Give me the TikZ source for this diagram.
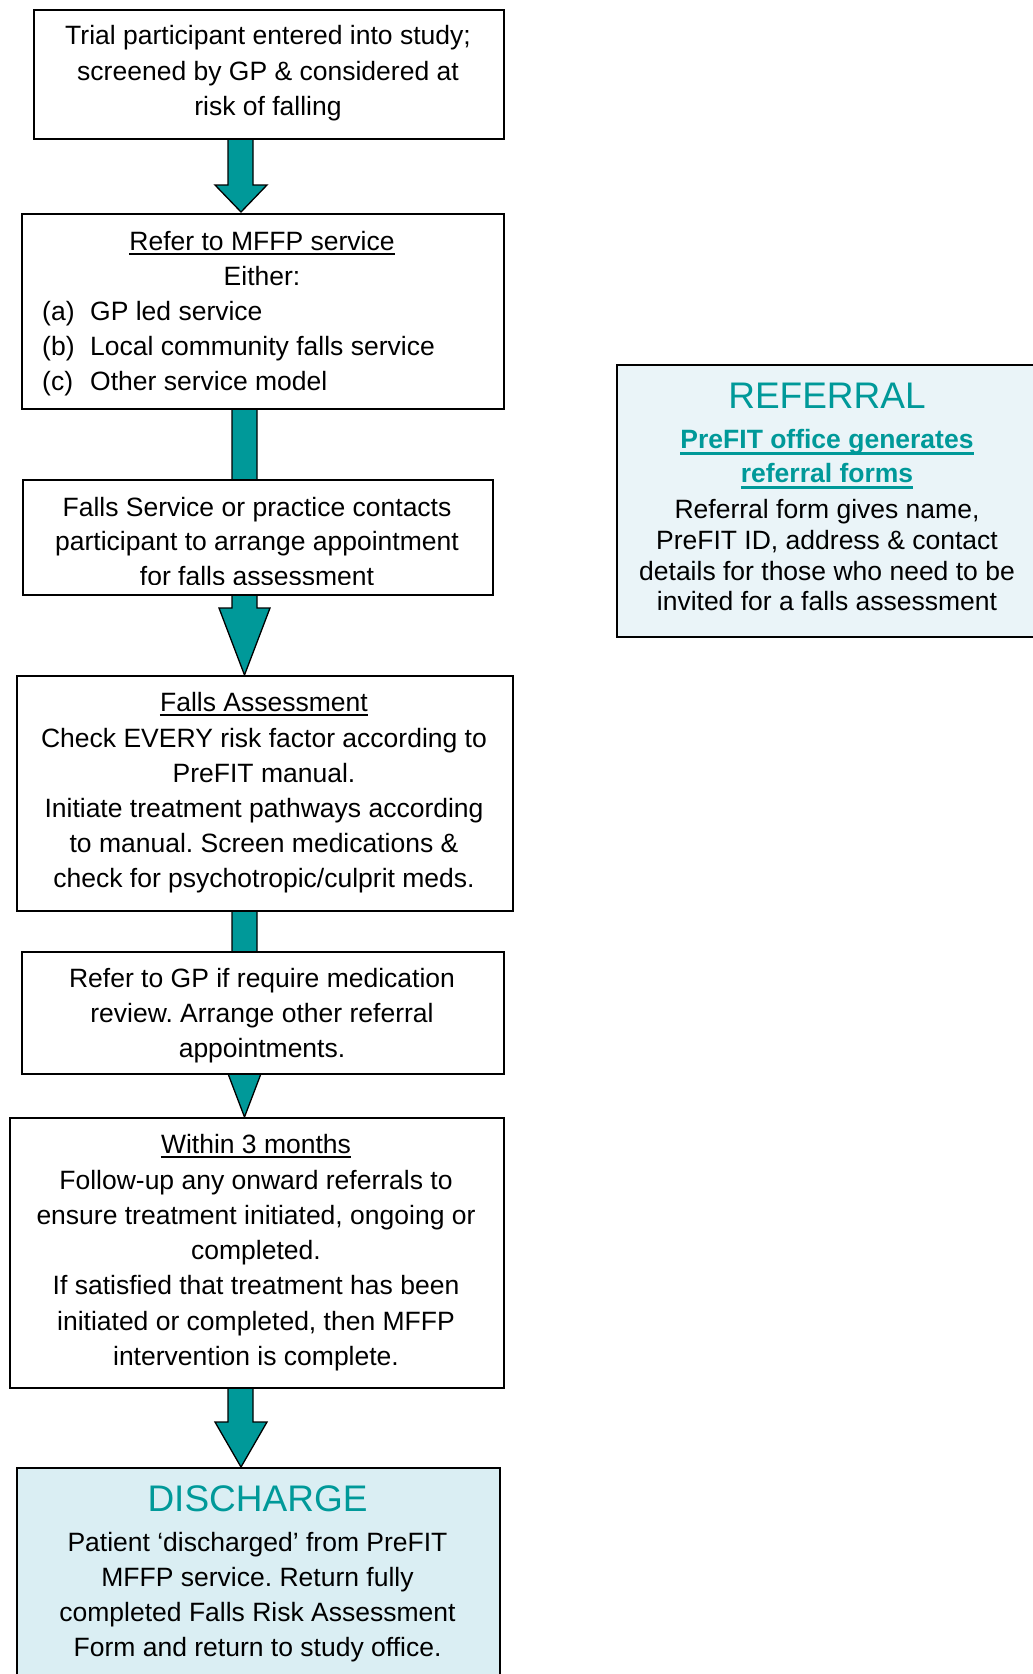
\documentclass[tikz,border=0pt]{standalone}
\usepackage{fontspec}
\setmainfont{Liberation Sans}
\frenchspacing
\definecolor{arrteal}{HTML}{009999}
\definecolor{reffill}{HTML}{EAF4F8}
\definecolor{disfill}{HTML}{DAEEF3}
\begin{document}
\begin{tikzpicture}[x=1pt,y=-1pt,
  box/.style={draw=black, line width=1.8pt, fill=white, inner sep=0pt, anchor=north west},
  txt/.style={inner sep=0pt, anchor=base, font=\fontsize{26.5}{32}\selectfont},
  ltxt/.style={txt, anchor=base west},
  ttl/.style={inner sep=0pt, anchor=base, text=arrteal, font=\fontsize{37}{40}\selectfont},
  sub/.style={txt, text=arrteal, font=\fontsize{26.5}{32}\selectfont\bfseries},
  arr/.style={fill=arrteal, draw=black, line width=1.3pt, line join=miter},
  ul/.style={line width=2pt},
  ulb/.style={line width=2.8pt, draw=arrteal}]
\useasboundingbox (0,0) rectangle (1033,1674);

% block arrows (drawn first, boxes cover their ends)
\draw[arr] (228,138) -- (228,185) -- (215,185) -- (241,212) -- (267,185) -- (253,185) -- (253,138) -- cycle;
\draw[arr] (232,408) -- (232,608) -- (219,608) -- (244.5,675) -- (270,608) -- (257,608) -- (257,408) -- cycle;
\draw[arr] (232,910) -- (232,1050) -- (219,1050) -- (244.5,1117) -- (270,1050) -- (257,1050) -- (257,910) -- cycle;
\draw[arr] (228,1387) -- (228,1422) -- (215,1422) -- (241,1467) -- (267,1422) -- (253,1422) -- (253,1387) -- cycle;

% boxes
\node[box, minimum width=470pt, minimum height=129pt] (b1) at (33,9) {};
\node[box, minimum width=482pt, minimum height=195pt] (b2) at (21,213) {};
\node[box, minimum width=470pt, minimum height=115pt] (b3) at (22,479) {};
\node[box, minimum width=496pt, minimum height=235pt] (b4) at (16,675) {};
\node[box, minimum width=482pt, minimum height=122pt] (b5) at (21,951) {};
\node[box, minimum width=494pt, minimum height=270pt] (b6) at (9,1117) {};
\node[box, fill=disfill, minimum width=483pt, minimum height=240pt] (b7) at (16,1467) {};
\node[box, fill=reffill, minimum width=424pt, minimum height=272pt] (ref) at (616,364) {};

% box 1
\node[txt] (t11) at (268,44.5) {Trial participant entered into study;};
\node[txt] (t12) at (268,80) {screened by GP \& considered at};
\node[txt] (t13) at (268,115) {risk of falling};

% box 2
\node[txt] (t21) at (262,250) {Refer to MFFP service};
\draw[ul] ([yshift=-3.5pt]t21.base west) -- ([yshift=-3.5pt]t21.base east);
\node[txt] (t22) at (262,285) {Either:};
\node[ltxt] (t23a) at (42,320) {(a)};
\node[ltxt] (t23) at (90,320) {GP led service};
\node[ltxt] (t24a) at (42,355) {(b)};
\node[ltxt] (t24) at (90,355) {Local community falls service};
\node[ltxt] (t25a) at (42,390) {(c)};
\node[ltxt] (t25) at (90,390) {Other service model};

% box 3
\node[txt] (t31) at (257,516) {Falls Service or practice contacts};
\node[txt] (t32) at (257,550.5) {participant to arrange appointment};
\begin{scope}
\clip (22,555) rectangle (492,584.5);
\node[txt] (t33) at (257,585.5) {for falls assessment};
\end{scope}

% box 4
\node[txt] (t41) at (264,711.5) {Falls Assessment};
\draw[ul] ([yshift=-3.5pt]t41.base west) -- ([yshift=-3.5pt]t41.base east);
\node[txt] (t42) at (264,747) {Check EVERY risk factor according to};
\node[txt] (t43) at (264,782) {PreFIT manual.};
\node[txt] (t44) at (264,817.3) {Initiate treatment pathways according};
\node[txt] (t45) at (264,852.5) {to manual. Screen medications \&};
\node[txt] (t46) at (264,887.5) {check for psychotropic/culprit meds.};

% box 5
\node[txt] (t51) at (262,987) {Refer to GP if require medication};
\node[txt] (t52) at (262,1022.2) {review. Arrange other referral};
\node[txt] (t53) at (262,1057.4) {appointments.};

% box 6
\node[txt] (t61) at (256,1153.5) {Within 3 months};
\draw[ul] ([yshift=-3.5pt]t61.base west) -- ([yshift=-3.5pt]t61.base east);
\node[txt] (t62) at (256,1189) {Follow-up any onward referrals to};
\node[txt] (t63) at (256,1224.4) {ensure treatment initiated, ongoing or};
\node[txt] (t64) at (256,1259.6) {completed.};
\node[txt] (t65) at (256,1294.8) {If satisfied that treatment has been};
\node[txt] (t66) at (256,1330) {initiated or completed, then MFFP};
\node[txt] (t67) at (256,1365.2) {intervention is complete.};

% box 7
\node[ttl] (t71) at (257.5,1511.5) {DISCHARGE};
\node[txt] (t72) at (257.5,1551.7) {Patient ‘discharged’ from PreFIT};
\node[txt] (t73) at (257.5,1586.7) {MFFP service. Return fully};
\node[txt] (t74) at (257.5,1621.7) {completed Falls Risk Assessment};
\node[txt] (t75) at (257.5,1656.7) {Form and return to study office.};

% referral box
\node[ttl] (r1) at (827,408.5) {REFERRAL};
\node[sub] (r2) at (827,448.5) {PreFIT office generates};
\draw[ulb] ([yshift=-5pt]r2.base west) -- ([yshift=-5pt]r2.base east);
\node[sub] (r3) at (827,482.5) {referral forms};
\draw[ulb] ([yshift=-5pt]r3.base west) -- ([yshift=-5pt]r3.base east);
\node[txt] (r4) at (827,518.5) {Referral form gives name,};
\node[txt] (r5) at (827,549) {PreFIT ID, address \& contact};
\node[txt] (r6) at (827,580) {details for those who need to be};
\node[txt] (r7) at (827,610) {invited for a falls assessment};
\end{tikzpicture}
\end{document}
